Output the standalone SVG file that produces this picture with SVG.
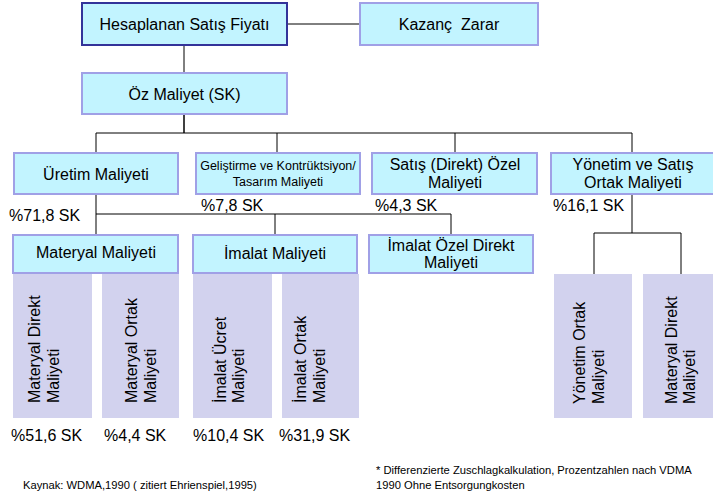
<svg xmlns="http://www.w3.org/2000/svg" width="713" height="499" viewBox="0 0 713 499">
<style>
text{font-family:"Liberation Sans",Arial,sans-serif;fill:#000}
.t{font-size:16px}
.c{text-anchor:middle}
.s{font-size:12.5px}
.n{font-size:11.2px}
.b{fill:#c2f4ff;stroke:#a0a0e6;stroke-width:2}
.p{fill:#d2d2ee}
.ln{fill:none;stroke:#000;stroke-width:1}
</style>
<rect width="713" height="499" fill="#fff"/>
<g id="connectors" class="ln">
<path d="M287,24 H360"/>
<path d="M184,45 V73"/>
<path d="M184,114 V133" stroke-width="1.5"/>
<path d="M96,133 H632 M96,133 V153 M277,133 V153 M455,133 V153 M632,133 V153"/>
<path d="M96,194 V235 M96,214 H451 M275,214 V235 M451,214 V235"/>
<path d="M632,194 V233 M594,233 H681 M594,233 V274 M681,233 V274"/>
</g>
<g id="n-hesaplanan"><rect x="82" y="3" width="205" height="42" class="b" style="stroke:#333399"/><text class="t c" x="184.5" y="30">Hesaplanan Satış Fiyatı</text></g>
<g id="n-kazanc"><rect x="360" y="3" width="178" height="42" class="b"/><text class="t c" x="449" y="30" xml:space="preserve">Kazanç  Zarar</text></g>
<g id="n-oz"><rect x="82" y="73" width="205" height="41" class="b"/><text class="t c" x="184.5" y="100">Öz Maliyet (SK)</text></g>
<g id="n-uretim"><rect x="14" y="153" width="164" height="41" class="b"/><text class="t c" x="96" y="180">Üretim Maliyeti</text></g>
<g id="n-gelistirme"><rect x="196" y="153" width="164" height="41" class="b"/><text class="s c" x="278" y="170">Geliştirme ve Kontrüktsiyon/</text><text class="s c" x="278" y="186">Tasarım Maliyeti</text></g>
<g id="n-satis"><rect x="372" y="153" width="165" height="41" class="b"/><text class="t c" x="455" y="170">Satış (Direkt) Özel</text><text class="t c" x="455" y="188">Maliyeti</text></g>
<g id="n-yonetim"><rect x="551" y="153" width="166" height="41" class="b"/><text class="t c" x="633" y="170">Yönetim ve Satış</text><text class="t c" x="633" y="188">Ortak Maliyeti</text></g>
<g id="n-materyal"><rect x="13" y="235" width="165" height="38" class="b"/><text class="t c" x="96" y="258">Materyal Maliyeti</text></g>
<g id="n-imalat"><rect x="193" y="235" width="164" height="38" class="b"/><text class="t c" x="275" y="259">İmalat Maliyeti</text></g>
<g id="n-imalat-ozel"><rect x="369" y="235" width="164" height="38" class="b"/><text class="t c" x="451" y="251">İmalat Özel Direkt</text><text class="t c" x="451" y="268">Maliyeti</text></g>
<g id="n-md"><rect x="13" y="274" width="79" height="144" class="p"/><text class="t" transform="translate(39.5,403) rotate(-90)">Materyal Direkt</text><text class="t" transform="translate(58.5,403) rotate(-90)">Maliyeti</text></g>
<g id="n-mo"><rect x="102" y="274" width="77" height="144" class="p"/><text class="t" transform="translate(136.5,403) rotate(-90)">Materyal Ortak</text><text class="t" transform="translate(155.5,403) rotate(-90)">Maliyeti</text></g>
<g id="n-iu"><rect x="193" y="274" width="79" height="144" class="p"/><text class="t" transform="translate(225.5,403) rotate(-90)">İmalat Ücret</text><text class="t" transform="translate(244,403) rotate(-90)">Maliyeti</text></g>
<g id="n-io"><rect x="282" y="274" width="77" height="144" class="p"/><text class="t" transform="translate(306,403) rotate(-90)">İmalat Ortak</text><text class="t" transform="translate(324.5,403) rotate(-90)">Maliyeti</text></g>
<g id="n-yo"><rect x="554" y="274" width="78" height="144" class="p"/><text class="t" transform="translate(584.5,404) rotate(-90)">Yönetim Ortak</text><text class="t" transform="translate(603.5,404) rotate(-90)">Maliyeti</text></g>
<g id="n-md2"><rect x="643" y="274" width="78" height="144" class="p"/><text class="t" transform="translate(676.5,404) rotate(-90)">Materyal Direkt</text><text class="t" transform="translate(694.5,404) rotate(-90)">Maliyeti</text></g>
<g id="labels">
<text class="t" x="9" y="221">%71,8 SK</text>
<text class="t" x="201" y="211">%7,8 SK</text>
<text class="t" x="375" y="211">%4,3 SK</text>
<text class="t" x="553" y="211">%16,1 SK</text>
<text class="t" x="11" y="441">%51,6 SK</text>
<text class="t" x="104" y="441">%4,4 SK</text>
<text class="t" x="193" y="441">%10,4 SK</text>
<text class="t" x="279" y="441">%31,9 SK</text>
<text class="n" x="23" y="489">Kaynak: WDMA,1990 ( zitiert Ehrienspiel,1995)</text>
<text class="n" x="376" y="474">* Differenzierte Zuschlagkalkulation, Prozentzahlen nach VDMA</text>
<text class="n" x="376" y="489">1990 Ohne Entsorgungkosten</text>
</g>
</svg>
